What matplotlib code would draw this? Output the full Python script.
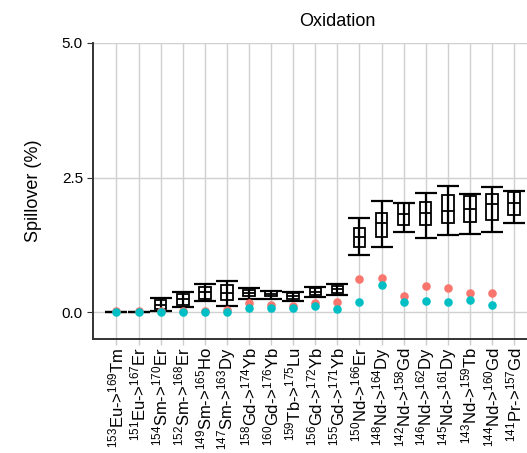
import matplotlib
matplotlib.use("Agg")
import numpy as np
import matplotlib.pyplot as plt

# fonts (Helvetica-like) and superscript mass numbers through mathtext
plt.rcParams['font.family'] = ['Liberation Sans', 'DejaVu Sans']
plt.rcParams['mathtext.fontset'] = 'custom'
plt.rcParams['mathtext.rm'] = 'Liberation Sans'
plt.rcParams['mathtext.default'] = 'regular'

# data
pairs = [("153", "Eu", "169", "Tm"), ("151", "Eu", "167", "Er"), ("154", "Sm", "170", "Er"),
         ("152", "Sm", "168", "Er"), ("149", "Sm", "165", "Ho"), ("147", "Sm", "163", "Dy"),
         ("158", "Gd", "174", "Yb"), ("160", "Gd", "176", "Yb"), ("159", "Tb", "175", "Lu"),
         ("156", "Gd", "172", "Yb"), ("155", "Gd", "171", "Yb"), ("150", "Nd", "166", "Er"),
         ("148", "Nd", "164", "Dy"), ("142", "Nd", "158", "Gd"), ("146", "Nd", "162", "Dy"),
         ("145", "Nd", "161", "Dy"), ("143", "Nd", "159", "Tb"), ("144", "Nd", "160", "Gd"),
         ("141", "Pr", "157", "Gd")]
labels = [f"$^{{{a}}}${b}->$^{{{c}}}${d}" for a, b, c, d in pairs]

whis_lo = [0.00, 0.00, 0.02, 0.10, 0.20, 0.12, 0.25, 0.25, 0.21, 0.28, 0.32, 1.07, 1.21, 1.49, 1.38, 1.44, 1.46, 1.49, 1.65]
box_lo  = [0.00, 0.00, 0.06, 0.13, 0.25, 0.23, 0.29, 0.29, 0.25, 0.32, 0.36, 1.21, 1.39, 1.62, 1.62, 1.65, 1.68, 1.71, 1.80]
median  = [0.00, 0.00, 0.14, 0.24, 0.37, 0.36, 0.35, 0.34, 0.30, 0.38, 0.42, 1.40, 1.66, 1.83, 1.85, 1.88, 1.91, 2.01, 2.02]
box_hi  = [0.01, 0.01, 0.22, 0.33, 0.47, 0.50, 0.41, 0.39, 0.36, 0.44, 0.49, 1.57, 1.85, 2.02, 2.05, 2.17, 2.16, 2.19, 2.24]
whis_hi = [0.01, 0.01, 0.27, 0.37, 0.53, 0.58, 0.44, 0.40, 0.38, 0.47, 0.52, 1.75, 2.07, 2.03, 2.22, 2.35, 2.19, 2.32, 2.25]

red_pts  = [0.02, 0.02, 0.02, 0.02, 0.02, 0.03, 0.17, 0.13, 0.11, 0.17, 0.18, 0.62, 0.63, 0.30, 0.49, 0.44, 0.36, 0.35, np.nan]
teal_pts = [0.01, 0.01, 0.01, 0.01, 0.01, 0.01, 0.08, 0.07, 0.07, 0.11, 0.06, 0.19, 0.51, 0.19, 0.21, 0.19, 0.22, 0.13, np.nan]

W, H = 527, 453
fig = plt.figure(figsize=(W / 100, H / 100), dpi=100)
# the panel runs past the right edge of the picture, as in the reference
ax = fig.add_axes([93.3 / W, (H - 339) / H, 444 / W, (339 - 43) / H])

x = np.arange(len(labels))

# error bars with caps (line goes through the box)
med = np.array(median)
ax.errorbar(x, med, yerr=[med - np.array(whis_lo), np.array(whis_hi) - med], fmt='none',
            ecolor='black', elinewidth=1.6, capsize=8, capthick=1.6, zorder=3)
# boxes
stats = [dict(med=median[i], q1=box_lo[i], q3=box_hi[i], whislo=box_lo[i], whishi=box_hi[i])
         for i in range(len(x))]
ax.bxp(stats, positions=x, widths=0.52, showcaps=False, showfliers=False, patch_artist=True,
       boxprops=dict(facecolor='none', edgecolor='black', linewidth=1.3),
       medianprops=dict(color='black', linewidth=1.3),
       whiskerprops=dict(linewidth=0), manage_ticks=False, zorder=3)

ax.scatter(x, red_pts, s=38, color='#F8766D', zorder=4, linewidths=0)
ax.scatter(x, teal_pts, s=38, color='#00BFC4', zorder=5, linewidths=0)

ax.set_xlim(-1.05, len(x) - 1 + 1.05)
ax.set_ylim(-0.5, 5.0)
ax.set_yticks([0, 2.5, 5.0])
ax.set_yticklabels(['0.0', '2.5', '5.0'])
ax.set_xticks(x)
ax.set_xticklabels(labels, rotation=90, fontsize=12)
ax.tick_params(axis='y', labelsize=11, length=4, color='#333333', width=0.8)
ax.tick_params(axis='x', length=4, color='#cccccc', width=1, pad=2)
ax.grid(True, color='#d0d0d0', linewidth=1)
ax.set_axisbelow(True)
for s in ['top', 'right']:
    ax.spines[s].set_visible(False)
for s in ['left', 'bottom']:
    ax.spines[s].set_color('#333333')
    ax.spines[s].set_linewidth(1.4)

ax.set_ylabel('Spillover (%)', fontsize=13, labelpad=14)
fig.text(337 / W, 1 - 22 / H, 'Oxidation', fontsize=13, ha='center', va='center')

fig.savefig('out.png', dpi=100)
